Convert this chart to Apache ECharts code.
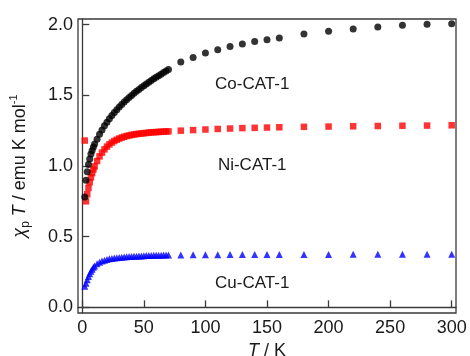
<!DOCTYPE html>
<html>
<head>
<meta charset="utf-8">
<script src="https://cdn.jsdelivr.net/npm/echarts@6/dist/echarts.min.js"></script>
<style>
  html, body { margin: 0; padding: 0; background: #fff; }
  #chart { width: 470px; height: 356px; }
</style>
</head>
<body>
<div id="chart"></div>
<script>
// Temperature points (K) shared by the three measurements
const temperature = [
  2, 3, 4, 5, 6, 7, 8, 9, 10,
  12, 14, 16, 18, 20, 22, 24, 26, 28, 30, 32, 34, 36, 38, 40,
  42, 44, 46, 48, 50, 52, 54, 56, 58, 60, 62, 64, 66, 68, 70,
  80, 90, 100, 110, 120, 130, 140, 150, 160,
  180, 200, 220, 240, 260, 280, 300
];

// chi_p * T (emu K mol^-1)
const coChiT = [
  0.78, 0.90, 0.96, 1.01, 1.05, 1.085, 1.11, 1.135, 1.155,
  1.19, 1.225, 1.255, 1.285, 1.31, 1.335, 1.357, 1.378, 1.398, 1.417, 1.435, 1.452, 1.468, 1.484, 1.499,
  1.514, 1.528, 1.542, 1.555, 1.568, 1.581, 1.593, 1.605, 1.617, 1.628, 1.639, 1.650, 1.661, 1.672, 1.683,
  1.736, 1.768, 1.800, 1.823, 1.846, 1.863, 1.880, 1.894, 1.906,
  1.934, 1.953, 1.970, 1.984, 1.995, 2.002, 2.006
];

const niChiT = [
  1.18, 0.75, 0.80, 0.845, 0.885, 0.92, 0.95, 0.975, 0.997,
  1.035, 1.068, 1.095, 1.118, 1.137, 1.153, 1.166, 1.177, 1.186, 1.194, 1.201, 1.207, 1.212, 1.216, 1.220,
  1.223, 1.226, 1.228, 1.230, 1.232, 1.234, 1.236, 1.238, 1.239, 1.240, 1.241, 1.242, 1.243, 1.244, 1.245,
  1.250, 1.254, 1.258, 1.262, 1.265, 1.268, 1.270, 1.272, 1.274,
  1.277, 1.279, 1.281, 1.283, 1.285, 1.286, 1.288
];

const cuChiT = [
  0.15, 0.17, 0.195, 0.218, 0.238, 0.255, 0.27, 0.283, 0.293,
  0.308, 0.319, 0.328, 0.334, 0.339, 0.343, 0.346, 0.349, 0.351, 0.353, 0.355, 0.356, 0.358, 0.359, 0.360,
  0.361, 0.362, 0.363, 0.364, 0.365, 0.366, 0.366, 0.367, 0.368, 0.368, 0.369, 0.369, 0.370, 0.370, 0.371,
  0.371, 0.372, 0.372, 0.372, 0.373, 0.373, 0.373, 0.373, 0.374,
  0.374, 0.374, 0.375, 0.375, 0.375, 0.375, 0.375
];

// Tick labels
const xTicks = [0, 50, 100, 150, 200, 250, 300];
const yTicks = [0.0, 0.5, 1.0, 1.5, 2.0];

// Sample labels and the data position they sit at
const sampleNames = ['Co-CAT-1', 'Ni-CAT-1', 'Cu-CAT-1'];
const labelAnchors = [[138, 1.58], [138, 1.005], [138, 0.17]];

const pairs = vals => temperature.map((t, i) => [t, vals[i]]);

const font = 'Liberation Sans, Arial, sans-serif';
const axisColor = '#3a3a3a';
const textColor = '#1a1a1a';

const chart = echarts.init(document.getElementById('chart'), null, { renderer: 'canvas' });

chart.setOption({
  animation: false,
  backgroundColor: '#fff',
  grid: {
    left: 78, right: 14, top: 19, bottom: 43,
    containLabel: false,
    outerBoundsMode: 'none',
    show: true, borderColor: axisColor, borderWidth: 1.3
  },
  xAxis: {
    type: 'value',
    min: -3.5, max: 303.5,
    name: '{it|T} / K',
    nameLocation: 'middle',
    nameGap: 26,
    nameTextStyle: {
      fontFamily: font, fontSize: 18, color: textColor,
      rich: { it: { fontStyle: 'italic', fontFamily: font, fontSize: 18, color: textColor } }
    },
    axisLine: { show: true, lineStyle: { color: axisColor, width: 1.3 } },
    axisTick: { show: true, inside: true, length: 7, customValues: xTicks, lineStyle: { color: axisColor, width: 1.3 } },
    axisLabel: { customValues: xTicks, fontFamily: font, fontSize: 18, color: textColor, margin: 6 },
    splitLine: { show: false }
  },
  yAxis: {
    type: 'value',
    min: -0.04, max: 2.04,
    name: '{chi|χ}{sub|p}{it| T} / emu K mol{sup|-1}',
    nameLocation: 'middle',
    nameRotate: 90,
    nameGap: 46,
    nameTextStyle: {
      fontFamily: font, fontSize: 18, color: textColor, lineHeight: 24,
      rich: {
        chi: { fontStyle: 'italic', fontFamily: font, fontSize: 18, color: textColor, lineHeight: 24 },
        it: { fontStyle: 'italic', fontFamily: font, fontSize: 18, color: textColor, lineHeight: 24 },
        sub: { fontFamily: font, fontSize: 12, color: textColor, lineHeight: 12, verticalAlign: 'bottom' },
        sup: { fontFamily: font, fontSize: 11, color: textColor, lineHeight: 11, verticalAlign: 'top' }
      }
    },
    axisLine: { show: true, lineStyle: { color: axisColor, width: 1.3 } },
    axisTick: { show: true, inside: true, length: 7, customValues: yTicks, lineStyle: { color: axisColor, width: 1.3 } },
    axisLabel: {
      customValues: yTicks, fontFamily: font, fontSize: 18, color: textColor, margin: 5,
      formatter: v => v.toFixed(1)
    },
    splitLine: { show: false }
  },
  series: [
    {
      name: 'Ni-CAT-1', type: 'scatter', symbol: 'rect', symbolSize: 6.5,
      itemStyle: { color: '#ff0000' }, data: pairs(niChiT)
    },
    {
      name: 'Cu-CAT-1', type: 'scatter', symbol: 'triangle', symbolSize: 7,
      itemStyle: { color: '#0000ff' }, data: pairs(cuChiT)
    },
    {
      name: 'Co-CAT-1', type: 'scatter', symbol: 'circle', symbolSize: 7,
      itemStyle: { color: '#000000' }, data: pairs(coChiT)
    }
  ]
});

// Sample name labels placed in data coordinates
chart.setOption({
  graphic: sampleNames.map((name, i) => {
    const p = chart.convertToPixel({ gridIndex: 0 }, labelAnchors[i]);
    return {
      type: 'text', x: p[0], y: p[1],
      style: {
        text: name, fontFamily: font, fontSize: 17, fill: textColor,
        textAlign: 'center', textVerticalAlign: 'middle'
      }
    };
  })
});
</script>
</body>
</html>
